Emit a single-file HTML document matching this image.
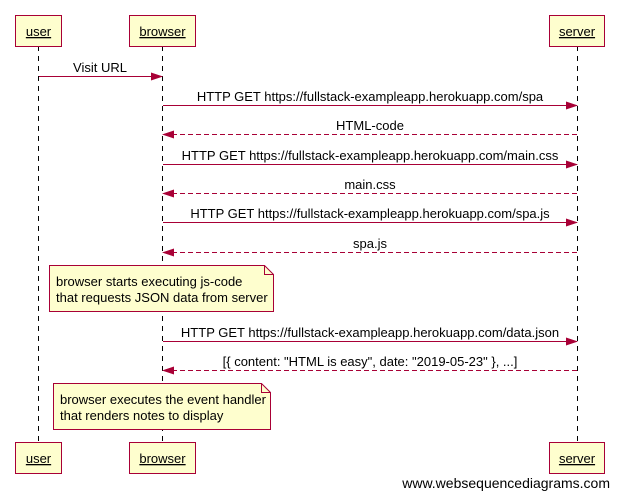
<!DOCTYPE html>
<html><head><style>body{margin:0;background:#fff}svg{display:block}text{font-family:"Liberation Sans",sans-serif;font-size:13px;fill:#000}</style></head><body>
<svg width="620" height="497" xmlns="http://www.w3.org/2000/svg">
<defs>
<marker id="a" markerWidth="12" markerHeight="8" refX="11" refY="4" orient="auto" markerUnits="userSpaceOnUse"><path d="M0,0 L12,4 L0,8 Z" fill="#a80036"/></marker>
</defs>
<g stroke="#000" stroke-dasharray="5,5" stroke-width="1">
<line x1="38.5" y1="46" x2="38.5" y2="442"/>
<line x1="162.5" y1="46" x2="162.5" y2="442"/>
<line x1="577.5" y1="46" x2="577.5" y2="442"/>
</g>
<g fill="#fefece" stroke="#a80036" stroke-width="1">
<rect x="15.5" y="15.5" width="46" height="31"/>
<rect x="129.5" y="15.5" width="66" height="31"/>
<rect x="549.5" y="15.5" width="55" height="31"/>
<rect x="15.5" y="442.5" width="46" height="31"/>
<rect x="129.5" y="442.5" width="66" height="31"/>
<rect x="549.5" y="442.5" width="55" height="31"/>
<path d="M49.5,265.5 H264.5 L273.5,274.5 V311.5 H49.5 Z"/>
<path d="M264.5,265.5 V274.5 H273.5" fill="none"/>
<path d="M53.5,383.5 H261.5 L270.5,392.5 V429.5 H53.5 Z"/>
<path d="M261.5,383.5 V392.5 H270.5" fill="none"/>
</g>
<g text-anchor="middle" text-decoration="underline">
<text x="38.5" y="36">user</text>
<text x="162.5" y="36">browser</text>
<text x="577" y="36">server</text>
<text x="38.5" y="463">user</text>
<text x="162.5" y="463">browser</text>
<text x="577" y="463">server</text>
</g>
<g stroke="#a80036" stroke-width="1" marker-end="url(#a)">
<line x1="39" y1="76.5" x2="162" y2="76.5"/>
<line x1="163" y1="105.5" x2="577" y2="105.5"/>
<line x1="577" y1="134.5" x2="163" y2="134.5" stroke-dasharray="5,3"/>
<line x1="163" y1="164.5" x2="577" y2="164.5"/>
<line x1="577" y1="193.5" x2="163" y2="193.5" stroke-dasharray="5,3"/>
<line x1="163" y1="222.5" x2="577" y2="222.5"/>
<line x1="577" y1="252.5" x2="163" y2="252.5" stroke-dasharray="5,3"/>
<line x1="163" y1="341.5" x2="577" y2="341.5"/>
<line x1="577" y1="370.5" x2="163" y2="370.5" stroke-dasharray="5,3"/>
</g>
<g text-anchor="middle">
<text x="100" y="72">Visit URL</text>
<text x="370" y="101">HTTP GET https://fullstack-exampleapp.herokuapp.com/spa</text>
<text x="370" y="130">HTML-code</text>
<text x="370" y="160">HTTP GET https://fullstack-exampleapp.herokuapp.com/main.css</text>
<text x="370" y="189">main.css</text>
<text x="370" y="218">HTTP GET https://fullstack-exampleapp.herokuapp.com/spa.js</text>
<text x="370" y="248">spa.js</text>
<text x="370" y="337">HTTP GET https://fullstack-exampleapp.herokuapp.com/data.json</text>
<text x="370" y="366">[{ content: "HTML is easy", date: "2019-05-23" }, ...]</text>
</g>
<text x="56" y="286">browser starts executing js-code</text>
<text x="56" y="302">that requests JSON data from server</text>
<text x="60" y="404">browser executes the event handler</text>
<text x="60" y="420">that renders notes to display</text>
<text x="610" y="488" text-anchor="end" style="font-size:14px">www.websequencediagrams.com</text>
</svg>
</body></html>
